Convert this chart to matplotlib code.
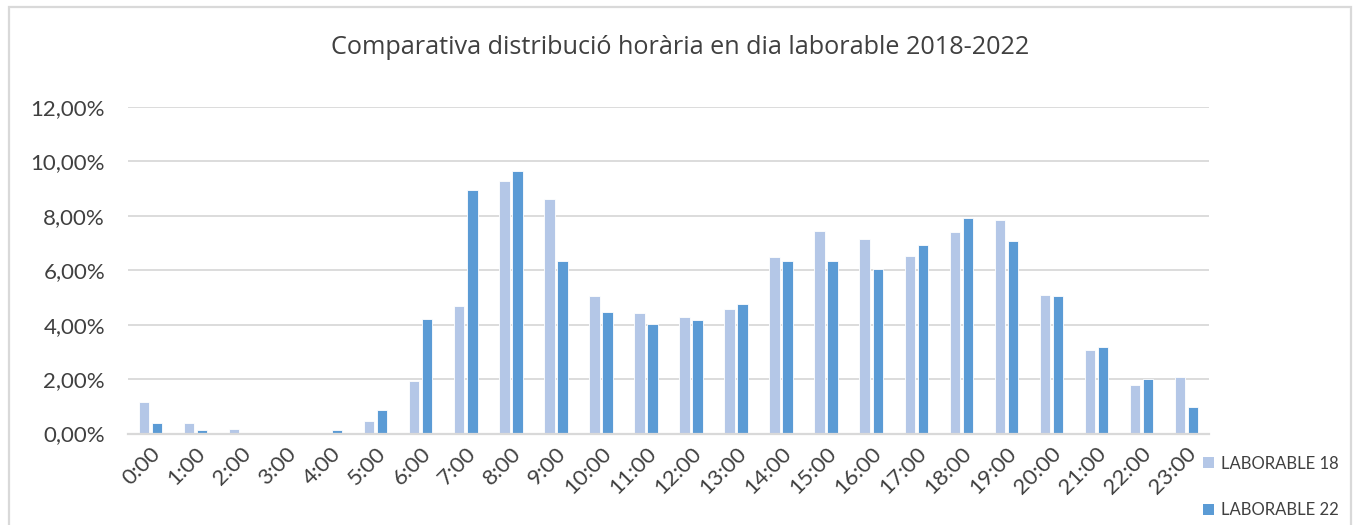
"""
Comparativa distribució horària en dia laborable 2018-2022
Gràfic de barres agrupades (LABORABLE 18 vs LABORABLE 22)
"""
import numpy as np
import matplotlib
matplotlib.use("Agg")
import matplotlib.pyplot as plt
from matplotlib.patches import Rectangle, Patch
from matplotlib.ticker import FuncFormatter

# ============================================================
#  Dades (percentatge per hora)
# ============================================================
HOURS = [f"{h}:00" for h in range(24)]

LAB_18 = [1.16, 0.38, 0.16, 0.00, 0.00, 0.45, 1.93, 4.67, 9.29, 8.63, 5.05, 4.43,
          4.27, 4.56, 6.49, 7.44, 7.15, 6.52, 7.39, 7.83, 5.10, 3.07, 1.79, 2.06]
LAB_22 = [0.40, 0.12, 0.01, 0.00, 0.12, 0.85, 4.20, 8.94, 9.66, 6.33, 4.46, 4.04,
          4.18, 4.76, 6.33, 6.33, 6.05, 6.91, 7.93, 7.06, 5.04, 3.17, 2.01, 0.99]

SERIES_NAMES = ["LABORABLE 18", "LABORABLE 22"]
Y_TICKS = [0, 2, 4, 6, 8, 10, 12]

# ============================================================
#  Estil
# ============================================================
COLOR_18 = "#B4C7E7"
COLOR_22 = "#5B9BD5"
GRID_COLOR = "#D9D9D9"
TEXT_COLOR = "#404040"
FONT = ["Lato", "DejaVu Sans"]
TITLE_FONT = ["Open Sans", "DejaVu Sans"]

plt.rcParams["font.family"] = FONT

W, H = 1358, 525
fig = plt.figure(figsize=(W / 100, H / 100), dpi=100)

# marc del gràfic (estil Excel)
fig.patches.append(Rectangle((9 / W, -0.05), (1351 - 9) / W, 1.05 - 7 / H,
                             transform=fig.transFigure, fill=False,
                             edgecolor=GRID_COLOR, linewidth=1.6))

ax = fig.add_axes([128 / W, 1 - 433.5 / H, (1209 - 128) / W, (433.5 - 107) / H])

x = np.arange(len(HOURS))
bw = 0.23
off = 0.145
ax.bar(x - off, LAB_18, width=bw, color=COLOR_18, edgecolor="white",
       linewidth=0.6, zorder=3)
ax.bar(x + off, LAB_22, width=bw, color=COLOR_22, edgecolor="white",
       linewidth=0.6, zorder=3)

ax.set_xlim(-0.5, len(HOURS) - 0.5)
ax.set_ylim(0, 12)
ax.set_yticks(Y_TICKS)
ax.yaxis.set_major_formatter(FuncFormatter(lambda v, _: f"{v:.2f}%".replace(".", ",")))
ax.set_xticks(x)
ax.set_xticklabels(HOURS, rotation=45, ha="right", rotation_mode="anchor")

ax.tick_params(axis="both", length=0, colors=TEXT_COLOR, labelsize=16)
ax.tick_params(axis="y", pad=16.5)
ax.tick_params(axis="x", pad=7)

ax.grid(axis="y", color=GRID_COLOR, linewidth=1.3, zorder=0)
for s in ["top", "right", "left"]:
    ax.spines[s].set_visible(False)
ax.spines["bottom"].set_color(GRID_COLOR)
ax.spines["bottom"].set_linewidth(1.6)
ax.spines["bottom"].set_zorder(4)

fig.text(680 / W, 1 - 47 / H, "Comparativa distribució horària en dia laborable 2018-2022",
         ha="center", va="center", fontsize=18.2, color=TEXT_COLOR, family=TITLE_FONT)

handles = [Patch(facecolor=COLOR_18, edgecolor="none"),
           Patch(facecolor=COLOR_22, edgecolor="none")]
fig.legend(handles, SERIES_NAMES, loc="center left",
           bbox_to_anchor=(1188 / W, 1 - 487 / H), frameon=False,
           fontsize=12, labelcolor=TEXT_COLOR, handlelength=0.65,
           handleheight=0.65, handletextpad=0.45, labelspacing=1.85)

fig.savefig("out.png", dpi=100)
